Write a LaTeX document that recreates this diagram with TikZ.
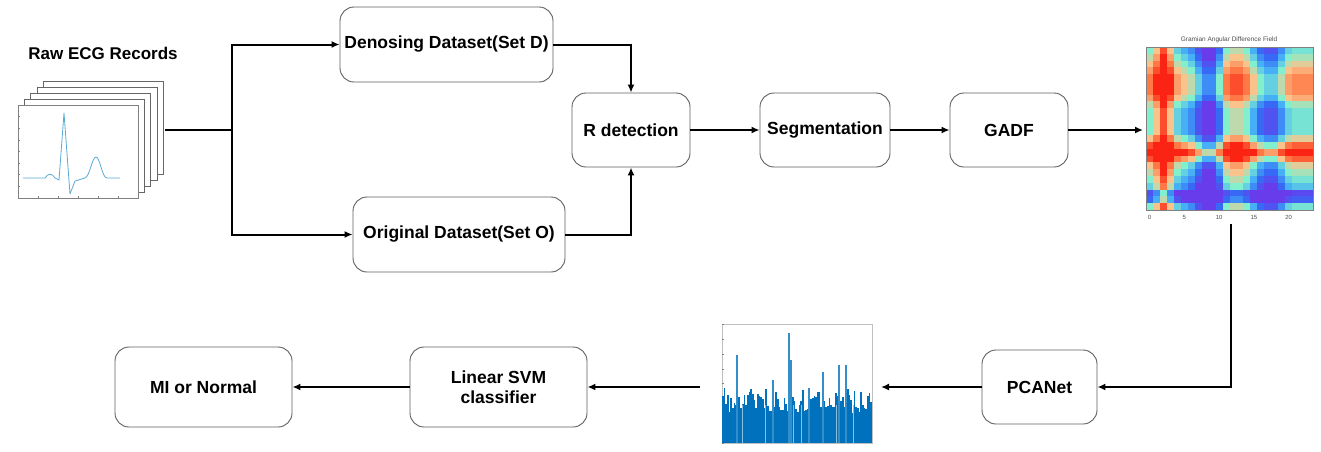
\documentclass[tikz,border=0pt]{standalone}
\usepackage{fontspec}
\setmainfont{Liberation Sans}
\usetikzlibrary{arrows.meta}
\definecolor{hm0}{RGB}{105,60,235}
\definecolor{hm1}{RGB}{55,105,245}
\definecolor{hm2}{RGB}{70,175,245}
\definecolor{hm3}{RGB}{130,240,205}
\definecolor{hm4}{RGB}{250,195,140}
\definecolor{hm5}{RGB}{255,120,70}
\definecolor{hm6}{RGB}{250,35,20}
\colorlet{hm7}{hm6}
\definecolor{boxline}{RGB}{95,95,95}
\definecolor{barblue}{RGB}{0,114,189}
\definecolor{ecgblue}{RGB}{90,170,215}
\begin{document}
\begin{tikzpicture}[x=1pt,y=-1pt,
  stage/.style={draw=boxline, line width=0.9pt, rounded corners=14pt, fill=white, align=center,
    font=\fontsize{17.5}{20.5}\selectfont\bfseries, inner sep=0pt},
  conn/.style={line width=2pt, draw=black},
  arr/.style={conn, -{Latex[length=8pt,width=7pt]}},
  frame/.style={draw=gray!80!black, line width=0.6pt, fill=white},
  tick/.style={draw=gray, line width=0.4pt},
]
\useasboundingbox (0,0) rectangle (1321,451);

% ---------- ECG stack ----------
\node[font=\fontsize{17}{20}\selectfont\bfseries] (title) at (103,53) {Raw ECG Records};
\foreach \k in {4,3,2,1} {
  \draw[frame] ({18+6.3*\k},{105-6*\k}) rectangle ({138+6.3*\k},{198-6*\k});
}
\draw[frame, draw=gray] (18,105) rectangle (138,198);
\foreach \t in {0,...,6} { \draw[tick] ({18+\t*20},198) -- ++(0,-2); }
\foreach \t in {0,...,8} { \draw[tick] (18,{105+\t*11.6}) -- ++(2,0); }
\draw[ecgblue, line width=0.8pt, line join=round]
  (23,178) -- (45,178) .. controls (48,173) and (52,173) .. (55,178) -- (59,180)
  -- (64,113) -- (70,194) -- (75,181) -- (85,178)
  .. controls (90,176) and (92,157) .. (96,157) .. controls (100,157) and (102,178) .. (107,178)
  -- (120,178);
\coordinate (ecgout) at (165,130);
\coordinate (split) at (232,130);

% ---------- stages ----------
\node[stage, minimum width=213pt, minimum height=75pt] (denoise) at (446.5,44.5) {Denosing Dataset(Set D)};
\node[stage, minimum width=212pt, minimum height=75pt] (orig) at (459,234.5) {Original Dataset(Set O)};
\node[stage, minimum width=118pt, minimum height=74pt] (rdet) at (631,130) {R detection};
\node[stage, minimum width=130pt, minimum height=74pt] (seg) at (825,130) {Segmentation};
\node[stage, minimum width=118pt, minimum height=74pt] (gadf) at (1009,130) {GADF};
\node[stage, minimum width=115pt, minimum height=74pt] (pcanet) at (1039.5,387) {PCANet};
\node[stage, minimum width=177pt, minimum height=80pt] (svm) at (498.5,387) {Linear SVM\\classifier};
\node[stage, minimum width=177pt, minimum height=80pt] (mi) at (203.5,387) {MI or Normal};

% ---------- GADF heat map ----------
\def\carr{{0.5,1.5,3,1.5,0,-0.5,-1,-2,-3,-3,-1.5,0.5,1,1,0.5,-0.5,-1.5,-2,-2,-1,0,0.3,0.3,0.3}}
\def\rarr{{-0.5,0,0.5,1,1.5,1.5,1.5,1,0,-0.5,-0.5,-0.5,-0.5,0.5,2,3.5,2,0.5,0,-0.5,-1,-3,-2.5,-0.5}}
\foreach \i in {0,...,23} {
  \foreach \j in {0,...,23} {
    \pgfmathsetmacro\v{max(0,min(6.99,3+\rarr[\i]+\carr[\j]))}
    \pgfmathtruncatemacro\lo{floor(\v)}
    \pgfmathtruncatemacro\hi{\lo+1}
    \pgfmathtruncatemacro\pc{round((\v-\lo)*100)}
    \fill[hm\hi!\pc!hm\lo] ({1146+\j*6.96},{47+\i*6.79}) rectangle ({1146+(\j+1)*6.96+0.4},{47+(\i+1)*6.79+0.4});
  }
}
\draw[gray, line width=0.4pt] (1146,47) rectangle (1313,210);
\node[font=\fontsize{6.5}{7}\selectfont, text=gray!60!black] (hmtitle) at (1229,40) {Gramian Angular Difference Field};
\foreach \n in {0,5,10,15,20} {
  \node[font=\fontsize{6}{7}\selectfont, text=gray!60!black] at ({1149.5+\n*6.96},217) {\n};
}
\coordinate (hmin) at (1143,130);
\coordinate (hmout) at (1231,224);

% ---------- feature bar chart ----------
\draw[gray!50, line width=0.4pt] (722,324) rectangle (872,443);
\foreach \t in {0,...,8} { \draw[tick] (722,{324+\t*14.9}) -- ++(2,0); }
\fill[barblue] (722,443) rectangle (872,418);
\pgfmathsetseed{11}
\foreach \k in {0,...,89} {
  \pgfmathsetmacro\h{30+26*rnd}
  \fill[barblue] ({722+\k*1.667},443) rectangle ++(1.667,-\h);
}
\foreach \x/\top in {736/355, 772/380, 788/333, 790/360, 822/372, 838/365, 845/365, 808/388} {
  \fill[barblue!80!white] (\x,443) rectangle (\x+1.6,\top);
}
\foreach \x in {742,765,793,801,836,853} {
  \draw[white!55!barblue, line width=0.5pt] (\x,443) -- (\x,405);
}
\coordinate (barin) at (881,387);
\coordinate (barout) at (700,387);

% ---------- connectors ----------
\draw[conn] (ecgout) -- (split);
\draw[arr] (split) |- (denoise.west);
\draw[arr] (split) |- (orig.west);
\draw[arr] (denoise.east) -| (rdet.north);
\draw[arr] (orig.east) -| (rdet.south);
\draw[arr] (rdet) -- (seg);
\draw[arr] (seg) -- (gadf);
\draw[arr] (gadf) -- (hmin);
\draw[arr] (hmout) |- (pcanet.east);
\draw[arr] (pcanet.west) -- (barin);
\draw[arr] (barout) -- (svm.east);
\draw[arr] (svm.west) -- (mi.east);
\end{tikzpicture}
\end{document}
